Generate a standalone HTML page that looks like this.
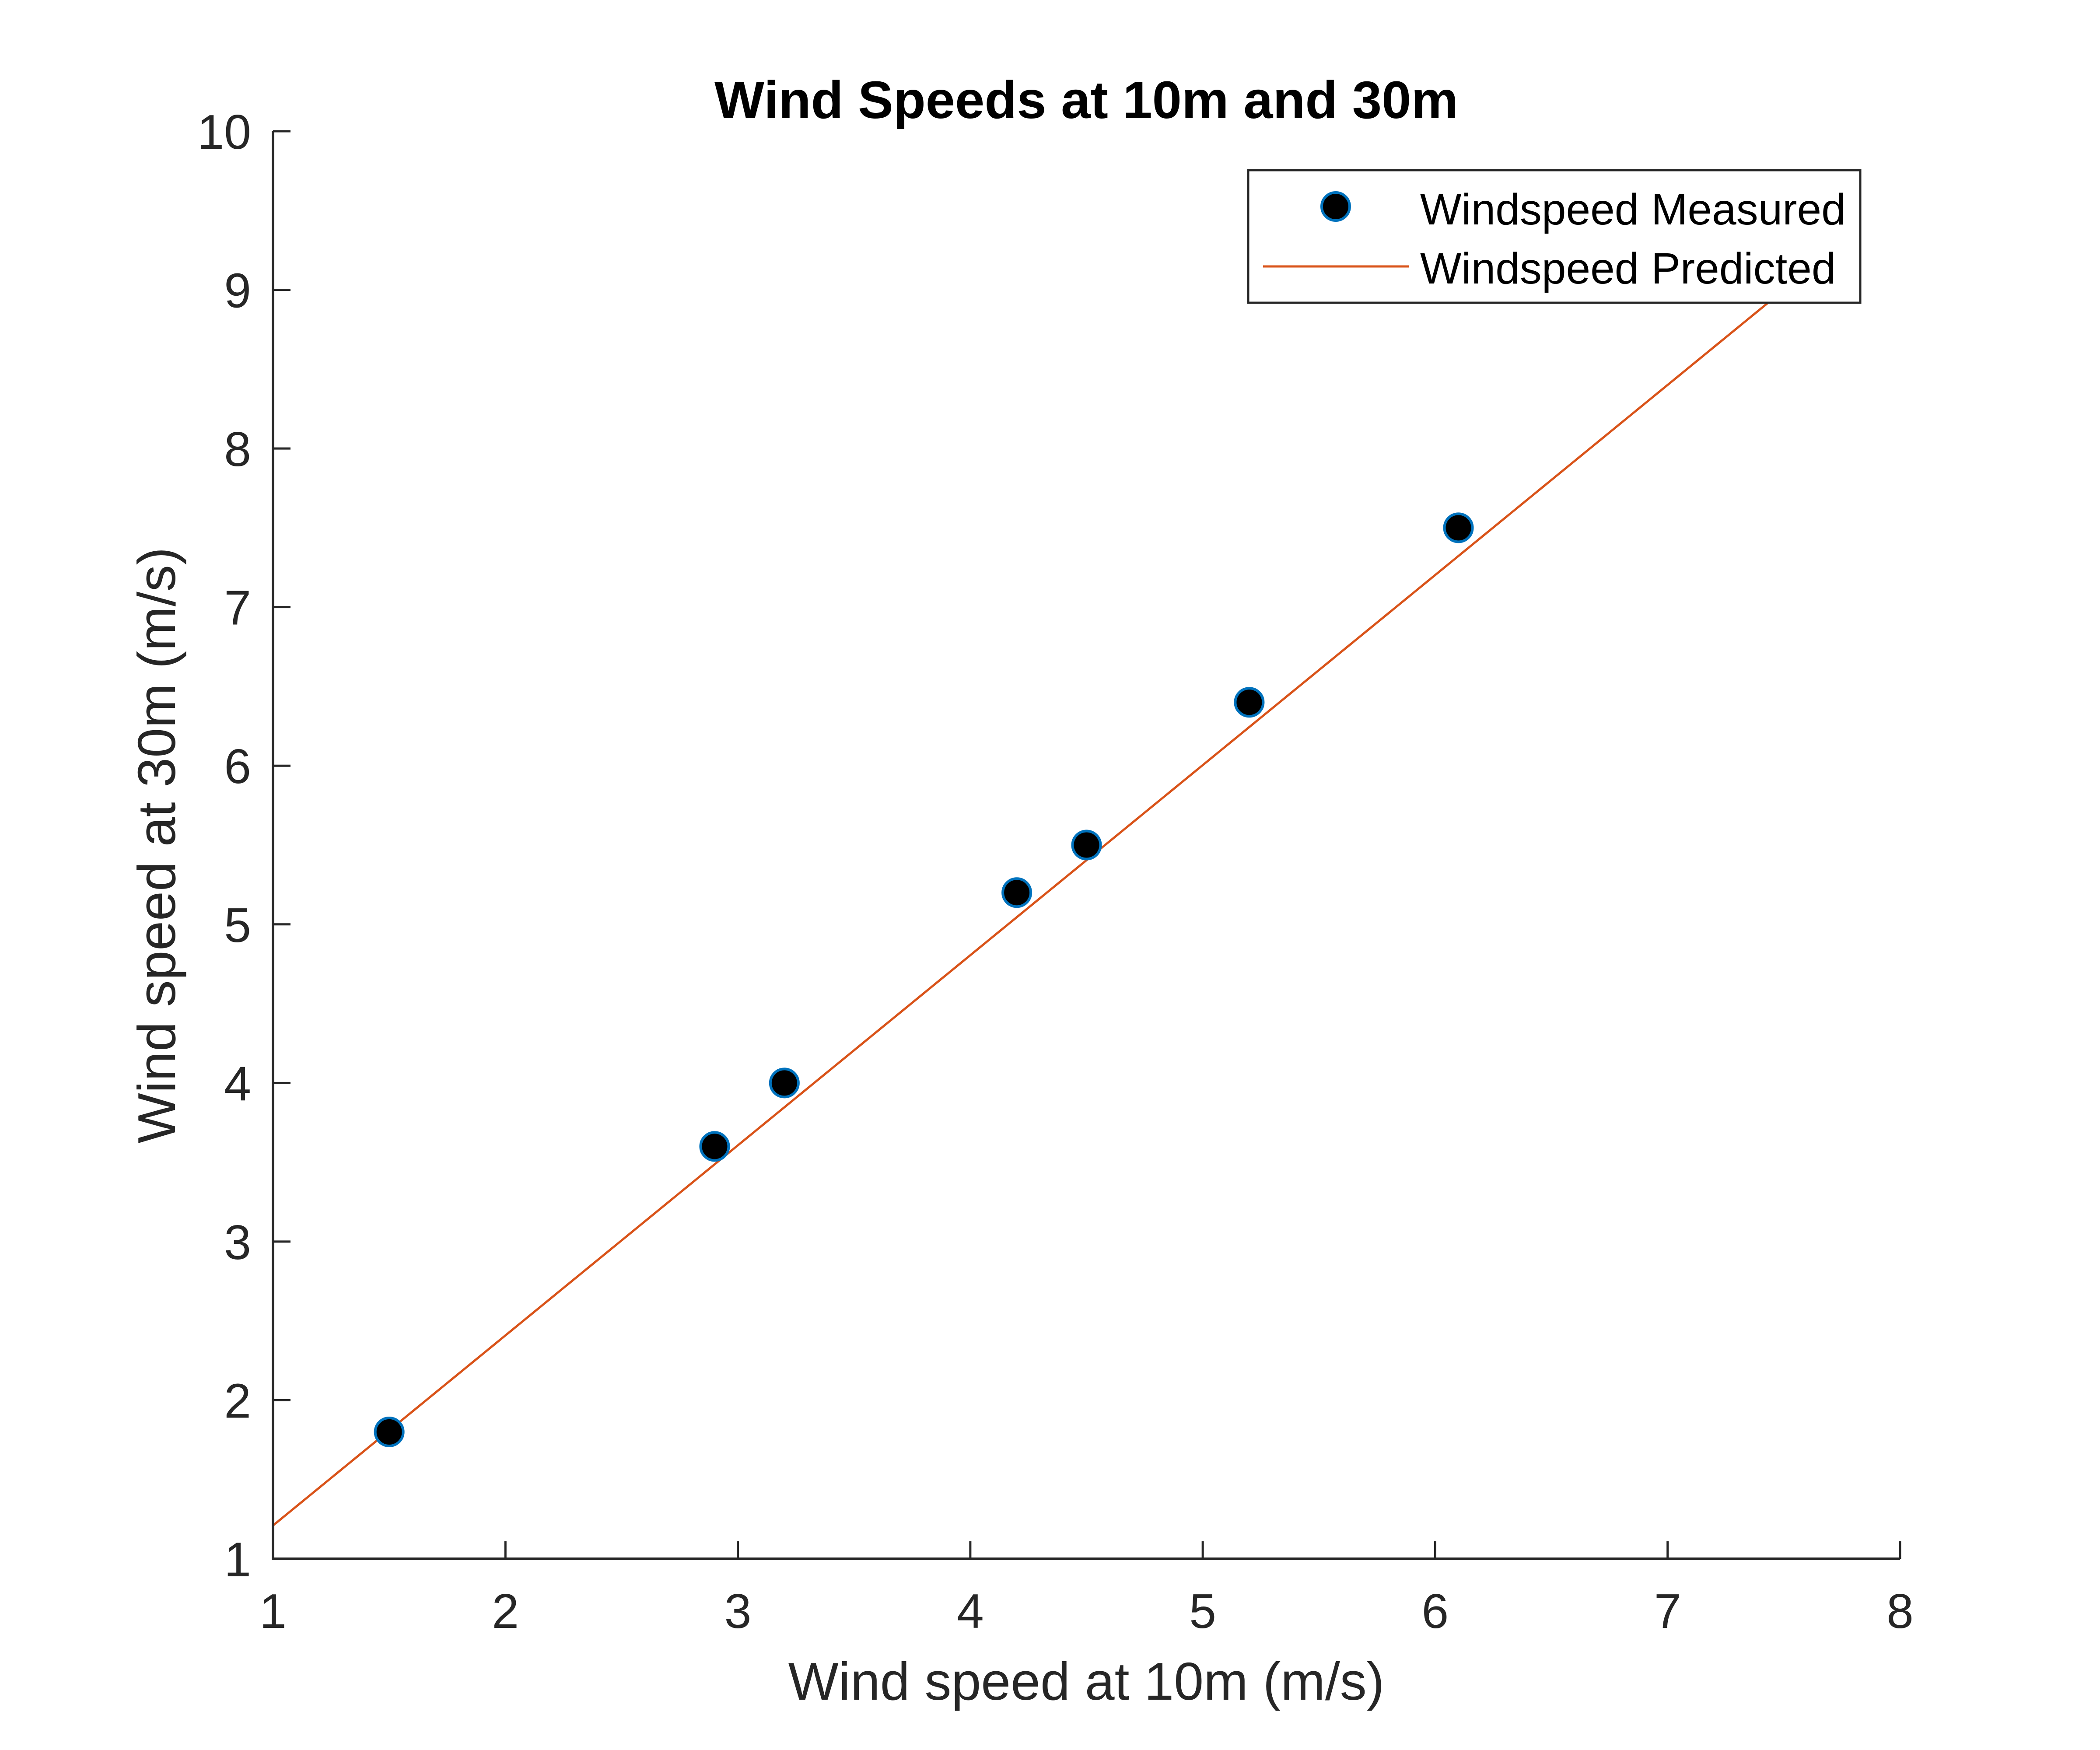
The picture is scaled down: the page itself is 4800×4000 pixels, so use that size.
<!DOCTYPE html>
<html><head><meta charset="utf-8"><style>
html,body{margin:0;padding:0;background:#fff;}
svg{display:block;font-family:"Liberation Sans",Arial,sans-serif;}
</style></head><body>
<svg id="chart" width="4800" height="4000" viewBox="0 0 4800 4000" xmlns="http://www.w3.org/2000/svg">
<rect width="4800" height="4000" fill="#fff"/>
<text x="2483" y="270" text-anchor="middle" font-size="121" font-weight="bold" fill="#000">Wind Speeds at 10m and 30m</text>
<g id="plot"></g>
<text x="2483" y="3885" text-anchor="middle" font-size="122" fill="#262626">Wind speed at 10m (m/s)</text>
<text transform="translate(400,1932) rotate(-90)" text-anchor="middle" font-size="122" fill="#262626">Wind speed at 30m (m/s)</text>
<g>
<rect x="2853" y="389" width="1399" height="303" fill="#fff" stroke="#262626" stroke-width="5"/>
<circle cx="3053" cy="472" r="32" fill="#000" stroke="#0072BD" stroke-width="6"/>
<text x="3246" y="513" font-size="100" fill="#000">Windspeed Measured</text>
<line x1="2887" y1="609" x2="3220" y2="609" stroke="#D95319" stroke-width="5"/>
<text x="3246" y="648" font-size="100" fill="#000">Windspeed Predicted</text>
</g>
</svg>
<script>
const xTicks = [1,2,3,4,5,6,7,8];
const yTicks = [1,2,3,4,5,6,7,8,9,10];
const measuredX = [1.5,2.9,3.2,4.2,4.5,5.2,6.1];
const measuredY = [1.8,3.6,4.0,5.2,5.5,6.4,7.5];
const predictedX = [1,7.5];
const predictedY = [1.21,9.0];

const NS = "http://www.w3.org/2000/svg";
const L = 624, R = 4343, T = 300, B = 3563;
const xMin = 1, xMax = 8, yMin = 1, yMax = 10;
function sx(v){ return L + (v - xMin) / (xMax - xMin) * (R - L); }
function sy(v){ return B - (v - yMin) / (yMax - yMin) * (B - T); }
const plot = document.getElementById('plot');
function mk(tag, attrs){ const e = document.createElementNS(NS, tag); for (const k in attrs) e.setAttribute(k, attrs[k]); return e; }

const pts = predictedX.map((x,i)=> sx(x)+','+sy(predictedY[i])).join(' ');
const pl = mk('polyline', {points: pts, fill:'none', stroke:'#D95319', 'stroke-width':5});


plot.appendChild(pl);

measuredX.forEach((x,i)=>{
  const c = mk('circle', {cx: sx(x), cy: sy(measuredY[i]), r: 32, fill:'#000', stroke:'#0072BD', 'stroke-width':6});
  
  
  plot.appendChild(c);
});

const ax = mk('path', {d:`M${L},${T} L${L},${B} L${R},${B}`, fill:'none', stroke:'#262626', 'stroke-width':6});


plot.appendChild(ax);

xTicks.forEach(v=>{
  const t = mk('line', {x1: sx(v), x2: sx(v), y1: B, y2: B-40, stroke:'#262626', 'stroke-width':5});
  
  
  plot.appendChild(t);
  const tx = mk('text', {x: sx(v), y: 3721, 'text-anchor':'middle', 'font-size':111, fill:'#262626'});
  tx.textContent = v;
  
  
  plot.appendChild(tx);
});
yTicks.forEach(v=>{
  const t = mk('line', {x1: L, x2: L+40, y1: sy(v), y2: sy(v), stroke:'#262626', 'stroke-width':5});
  
  
  plot.appendChild(t);
  const tx = mk('text', {x: 574, y: sy(v)+40, 'text-anchor':'end', 'font-size':111, fill:'#262626'});
  tx.textContent = v;
  
  
  plot.appendChild(tx);
});
</script>
</body></html>
